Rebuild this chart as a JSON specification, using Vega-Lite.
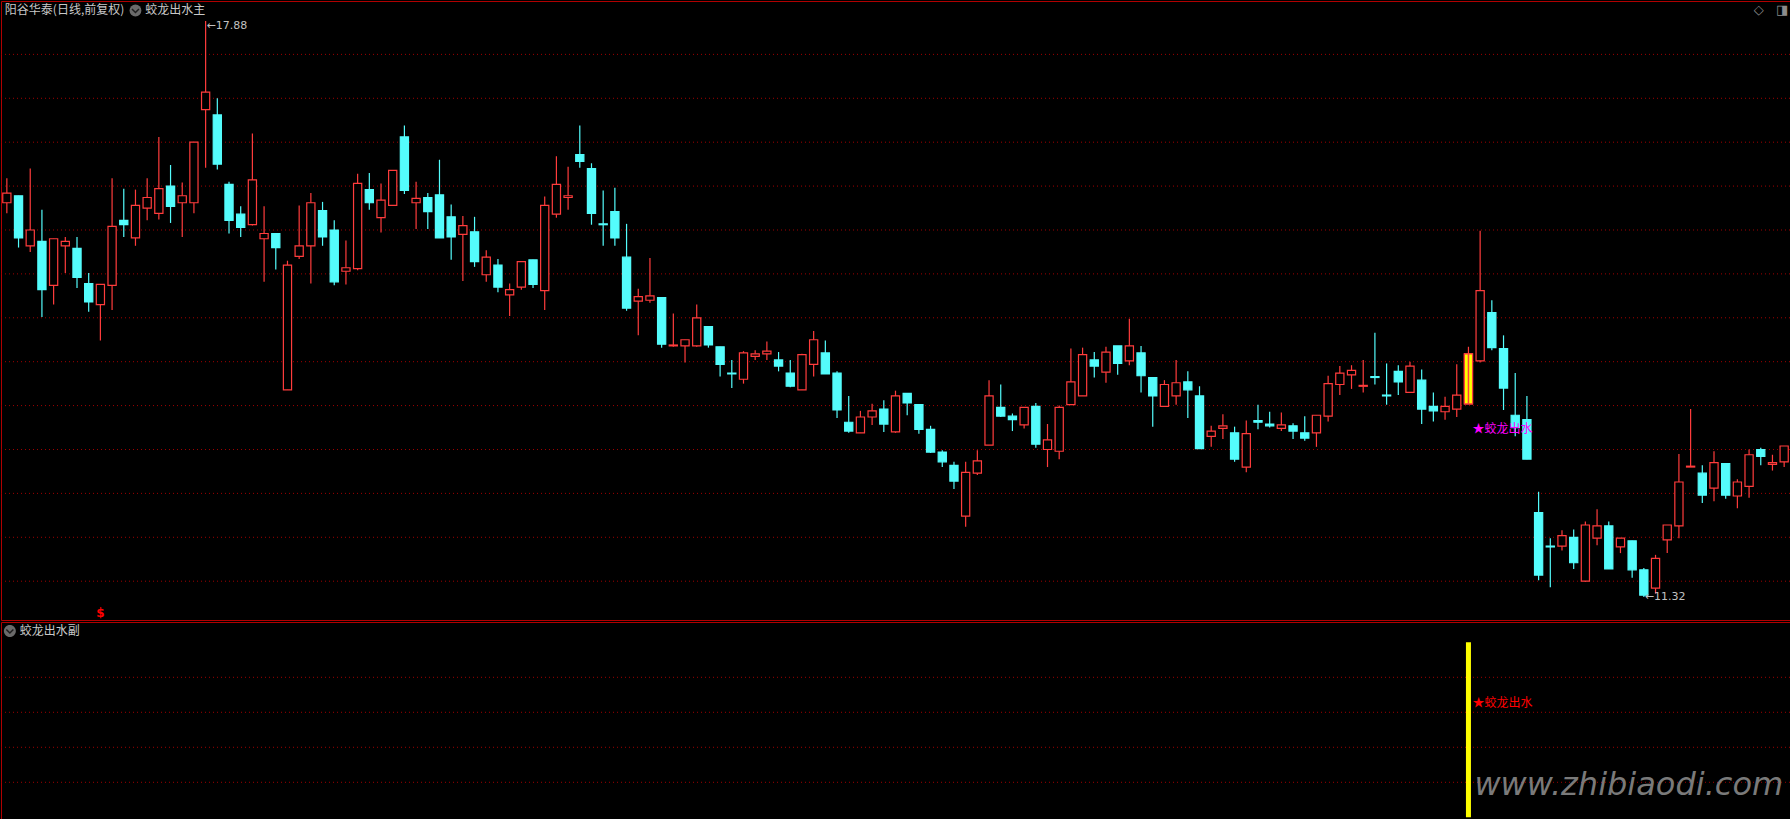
{
  "$schema": "https://vega.github.io/schema/vega-lite/v6.json",
  "background": "#000000",
  "padding": 0,
  "spacing": 0,
  "config": {
    "view": {"stroke": "#B00000", "strokeWidth": 1},
    "text": {"font": "Noto Sans CJK SC"}
  },
  "datasets": {
    "k": [
      {"i":1,"o":15.81,"h":16.09,"l":15.69,"c":15.92},
      {"i":2,"o":15.89,"h":15.89,"l":15.30,"c":15.41},
      {"i":3,"o":15.32,"h":16.20,"l":15.25,"c":15.50},
      {"i":4,"o":15.37,"h":15.73,"l":14.51,"c":14.82},
      {"i":5,"o":14.87,"h":15.40,"l":14.65,"c":15.40},
      {"i":6,"o":15.32,"h":15.42,"l":15.01,"c":15.37},
      {"i":7,"o":15.29,"h":15.42,"l":14.84,"c":14.96},
      {"i":8,"o":14.89,"h":15.01,"l":14.57,"c":14.68},
      {"i":9,"o":14.65,"h":14.88,"l":14.24,"c":14.88},
      {"i":10,"o":14.87,"h":16.09,"l":14.59,"c":15.54},
      {"i":11,"o":15.61,"h":15.97,"l":15.42,"c":15.56},
      {"i":12,"o":15.41,"h":15.96,"l":15.32,"c":15.78},
      {"i":13,"o":15.75,"h":16.09,"l":15.61,"c":15.87},
      {"i":14,"o":15.69,"h":16.56,"l":15.62,"c":15.97},
      {"i":15,"o":16.00,"h":16.24,"l":15.58,"c":15.77},
      {"i":16,"o":15.81,"h":16.04,"l":15.42,"c":15.89},
      {"i":17,"o":15.81,"h":16.50,"l":15.69,"c":16.50},
      {"i":18,"o":16.87,"h":17.88,"l":16.21,"c":17.07},
      {"i":19,"o":16.81,"h":17.00,"l":16.19,"c":16.25},
      {"i":20,"o":16.02,"h":16.05,"l":15.46,"c":15.61},
      {"i":21,"o":15.68,"h":15.77,"l":15.42,"c":15.53},
      {"i":22,"o":15.56,"h":16.60,"l":15.55,"c":16.07},
      {"i":23,"o":15.40,"h":15.77,"l":14.91,"c":15.46},
      {"i":24,"o":15.46,"h":15.46,"l":15.05,"c":15.30},
      {"i":25,"o":13.68,"h":15.15,"l":13.68,"c":15.10},
      {"i":26,"o":15.20,"h":15.78,"l":15.17,"c":15.32},
      {"i":27,"o":15.32,"h":15.92,"l":14.89,"c":15.81},
      {"i":28,"o":15.72,"h":15.82,"l":15.32,"c":15.42},
      {"i":29,"o":15.50,"h":15.61,"l":14.87,"c":14.91},
      {"i":30,"o":15.03,"h":15.38,"l":14.88,"c":15.07},
      {"i":31,"o":15.06,"h":16.14,"l":15.04,"c":16.03},
      {"i":32,"o":15.96,"h":16.15,"l":15.73,"c":15.81},
      {"i":33,"o":15.64,"h":16.03,"l":15.47,"c":15.84},
      {"i":34,"o":15.78,"h":16.18,"l":15.78,"c":16.18},
      {"i":35,"o":16.56,"h":16.69,"l":15.91,"c":15.95},
      {"i":36,"o":15.81,"h":16.05,"l":15.51,"c":15.86},
      {"i":37,"o":15.87,"h":15.92,"l":15.51,"c":15.71},
      {"i":38,"o":15.90,"h":16.30,"l":15.41,"c":15.41},
      {"i":39,"o":15.65,"h":15.79,"l":15.16,"c":15.42},
      {"i":40,"o":15.45,"h":15.66,"l":14.92,"c":15.55},
      {"i":41,"o":15.48,"h":15.65,"l":15.08,"c":15.14},
      {"i":42,"o":14.99,"h":15.27,"l":14.91,"c":15.19},
      {"i":43,"o":15.10,"h":15.17,"l":14.79,"c":14.85},
      {"i":44,"o":14.76,"h":14.89,"l":14.52,"c":14.82},
      {"i":45,"o":14.85,"h":15.14,"l":14.82,"c":15.14},
      {"i":46,"o":15.16,"h":15.16,"l":14.84,"c":14.88},
      {"i":47,"o":14.81,"h":15.88,"l":14.59,"c":15.78},
      {"i":48,"o":15.68,"h":16.34,"l":15.64,"c":16.02},
      {"i":49,"o":15.87,"h":16.22,"l":15.73,"c":15.89},
      {"i":50,"o":16.36,"h":16.69,"l":16.21,"c":16.28},
      {"i":51,"o":16.20,"h":16.26,"l":15.56,"c":15.69},
      {"i":52,"o":15.57,"h":15.95,"l":15.32,"c":15.56},
      {"i":53,"o":15.71,"h":15.98,"l":15.32,"c":15.41},
      {"i":54,"o":15.19,"h":15.57,"l":14.58,"c":14.61},
      {"i":55,"o":14.69,"h":14.83,"l":14.30,"c":14.74},
      {"i":56,"o":14.70,"h":15.18,"l":14.67,"c":14.75},
      {"i":57,"o":14.73,"h":14.73,"l":14.16,"c":14.20},
      {"i":58,"o":14.18,"h":14.55,"l":14.17,"c":14.19},
      {"i":59,"o":14.18,"h":14.25,"l":13.99,"c":14.25},
      {"i":60,"o":14.18,"h":14.65,"l":14.17,"c":14.50},
      {"i":61,"o":14.40,"h":14.40,"l":14.16,"c":14.19},
      {"i":62,"o":14.17,"h":14.17,"l":13.83,"c":13.97},
      {"i":63,"o":13.87,"h":14.02,"l":13.70,"c":13.86},
      {"i":64,"o":13.80,"h":14.12,"l":13.75,"c":14.10},
      {"i":65,"o":14.06,"h":14.13,"l":14.02,"c":14.09},
      {"i":66,"o":14.09,"h":14.23,"l":14.02,"c":14.12},
      {"i":67,"o":14.02,"h":14.11,"l":13.89,"c":13.95},
      {"i":68,"o":13.87,"h":14.02,"l":13.71,"c":13.72},
      {"i":69,"o":13.68,"h":14.09,"l":13.68,"c":14.08},
      {"i":70,"o":13.97,"h":14.35,"l":13.83,"c":14.25},
      {"i":71,"o":14.10,"h":14.24,"l":13.86,"c":13.86},
      {"i":72,"o":13.87,"h":13.89,"l":13.36,"c":13.45},
      {"i":73,"o":13.31,"h":13.61,"l":13.19,"c":13.21},
      {"i":74,"o":13.19,"h":13.44,"l":13.19,"c":13.37},
      {"i":75,"o":13.37,"h":13.52,"l":13.28,"c":13.44},
      {"i":76,"o":13.46,"h":13.56,"l":13.20,"c":13.29},
      {"i":77,"o":13.20,"h":13.67,"l":13.19,"c":13.61},
      {"i":78,"o":13.64,"h":13.64,"l":13.39,"c":13.53},
      {"i":79,"o":13.51,"h":13.51,"l":13.18,"c":13.23},
      {"i":80,"o":13.23,"h":13.27,"l":12.96,"c":12.97},
      {"i":81,"o":12.97,"h":12.99,"l":12.80,"c":12.86},
      {"i":82,"o":12.82,"h":12.86,"l":12.55,"c":12.64},
      {"i":83,"o":12.24,"h":12.86,"l":12.12,"c":12.74},
      {"i":84,"o":12.73,"h":12.99,"l":12.71,"c":12.87},
      {"i":85,"o":13.05,"h":13.79,"l":13.05,"c":13.61},
      {"i":86,"o":13.48,"h":13.74,"l":13.37,"c":13.38},
      {"i":87,"o":13.38,"h":13.41,"l":13.21,"c":13.34},
      {"i":88,"o":13.28,"h":13.48,"l":13.24,"c":13.48},
      {"i":89,"o":13.49,"h":13.53,"l":13.02,"c":13.06},
      {"i":90,"o":13.00,"h":13.29,"l":12.80,"c":13.11},
      {"i":91,"o":12.98,"h":13.50,"l":12.89,"c":13.48},
      {"i":92,"o":13.51,"h":14.15,"l":13.51,"c":13.77},
      {"i":93,"o":13.61,"h":14.16,"l":13.61,"c":14.08},
      {"i":94,"o":14.02,"h":14.11,"l":13.82,"c":13.95},
      {"i":95,"o":13.88,"h":14.17,"l":13.76,"c":14.11},
      {"i":96,"o":14.18,"h":14.18,"l":13.85,"c":13.98},
      {"i":97,"o":14.01,"h":14.49,"l":13.96,"c":14.18},
      {"i":98,"o":14.10,"h":14.18,"l":13.65,"c":13.84},
      {"i":99,"o":13.82,"h":13.82,"l":13.26,"c":13.61},
      {"i":100,"o":13.49,"h":13.79,"l":13.49,"c":13.74},
      {"i":101,"o":13.61,"h":14.02,"l":13.51,"c":13.76},
      {"i":102,"o":13.77,"h":13.89,"l":13.36,"c":13.68},
      {"i":103,"o":13.61,"h":13.72,"l":13.01,"c":13.01},
      {"i":104,"o":13.15,"h":13.27,"l":13.03,"c":13.21},
      {"i":105,"o":13.24,"h":13.40,"l":13.12,"c":13.27},
      {"i":106,"o":13.19,"h":13.26,"l":12.86,"c":12.89},
      {"i":107,"o":12.80,"h":13.33,"l":12.74,"c":13.18},
      {"i":108,"o":13.33,"h":13.51,"l":13.23,"c":13.31},
      {"i":109,"o":13.29,"h":13.43,"l":13.25,"c":13.27},
      {"i":110,"o":13.24,"h":13.42,"l":13.21,"c":13.28},
      {"i":111,"o":13.27,"h":13.30,"l":13.12,"c":13.21},
      {"i":112,"o":13.19,"h":13.38,"l":13.10,"c":13.13},
      {"i":113,"o":13.19,"h":13.39,"l":13.03,"c":13.39},
      {"i":114,"o":13.38,"h":13.84,"l":13.32,"c":13.75},
      {"i":115,"o":13.74,"h":13.95,"l":13.62,"c":13.87},
      {"i":116,"o":13.85,"h":13.96,"l":13.69,"c":13.90},
      {"i":117,"o":13.72,"h":14.02,"l":13.65,"c":13.73},
      {"i":118,"o":13.83,"h":14.33,"l":13.74,"c":13.82},
      {"i":119,"o":13.62,"h":13.98,"l":13.51,"c":13.61},
      {"i":120,"o":13.89,"h":13.96,"l":13.62,"c":13.77},
      {"i":121,"o":13.65,"h":14.00,"l":13.65,"c":13.95},
      {"i":122,"o":13.79,"h":13.91,"l":13.29,"c":13.46},
      {"i":123,"o":13.49,"h":13.65,"l":13.32,"c":13.44},
      {"i":124,"o":13.43,"h":13.60,"l":13.34,"c":13.49},
      {"i":125,"o":13.46,"h":13.97,"l":13.37,"c":13.62},
      {"i":126,"o":13.52,"h":14.17,"l":13.52,"c":14.09},
      {"i":127,"o":14.01,"h":15.49,"l":13.99,"c":14.81},
      {"i":128,"o":14.56,"h":14.70,"l":14.13,"c":14.16},
      {"i":129,"o":14.15,"h":14.30,"l":13.45,"c":13.70},
      {"i":130,"o":13.39,"h":13.87,"l":13.15,"c":13.25},
      {"i":131,"o":13.34,"h":13.61,"l":12.89,"c":12.89},
      {"i":132,"o":12.28,"h":12.52,"l":11.51,"c":11.57},
      {"i":133,"o":11.90,"h":11.99,"l":11.43,"c":11.89},
      {"i":134,"o":11.90,"h":12.08,"l":11.85,"c":12.02},
      {"i":135,"o":12.00,"h":12.09,"l":11.64,"c":11.71},
      {"i":136,"o":11.50,"h":12.18,"l":11.49,"c":12.14},
      {"i":137,"o":11.99,"h":12.32,"l":11.91,"c":12.13},
      {"i":138,"o":12.13,"h":12.18,"l":11.64,"c":11.64},
      {"i":139,"o":11.89,"h":11.99,"l":11.82,"c":11.99},
      {"i":140,"o":11.96,"h":11.96,"l":11.54,"c":11.63},
      {"i":141,"o":11.63,"h":11.65,"l":11.32,"c":11.34},
      {"i":142,"o":11.42,"h":11.80,"l":11.36,"c":11.76},
      {"i":143,"o":11.97,"h":12.14,"l":11.82,"c":12.14},
      {"i":144,"o":12.13,"h":12.95,"l":11.99,"c":12.63},
      {"i":145,"o":12.80,"h":13.46,"l":12.80,"c":12.81},
      {"i":146,"o":12.73,"h":12.82,"l":12.39,"c":12.48},
      {"i":147,"o":12.56,"h":12.98,"l":12.41,"c":12.85},
      {"i":148,"o":12.84,"h":12.84,"l":12.44,"c":12.48},
      {"i":149,"o":12.47,"h":12.66,"l":12.33,"c":12.63},
      {"i":150,"o":12.58,"h":13.00,"l":12.45,"c":12.94},
      {"i":151,"o":13.00,"h":13.02,"l":12.82,"c":12.92},
      {"i":152,"o":12.83,"h":12.94,"l":12.76,"c":12.85},
      {"i":153,"o":12.86,"h":13.04,"l":12.80,"c":13.04}
    ],
    "sig": [{"i":126,"o":13.52,"c":14.09,"v0":0,"v1":100}]
  },
  "vconcat": [
    {
      "width": 1789,
      "height": 619,
      "layer": [
        {
          "data": {"values": [{"g":11.5},{"g":12},{"g":12.5},{"g":13},{"g":13.5},{"g":14},{"g":14.5},{"g":15},{"g":15.5},{"g":16},{"g":16.5},{"g":17},{"g":17.5}]},
          "mark": {"type": "rule", "color": "#A00000", "strokeWidth": 1, "strokeDash": [1, 3]},
          "encoding": {
            "y": {"field": "g", "type": "quantitative", "scale": {"domain": [11.058, 18.108], "nice": false, "zero": false}, "axis": null}
          }
        },
        {
          "data": {"name": "k"},
          "mark": {"type": "rule", "strokeWidth": 1.2},
          "encoding": {
            "x": {"field": "i", "type": "ordinal", "scale": {"domain": [1,2,3,4,5,6,7,8,9,10,11,12,13,14,15,16,17,18,19,20,21,22,23,24,25,26,27,28,29,30,31,32,33,34,35,36,37,38,39,40,41,42,43,44,45,46,47,48,49,50,51,52,53,54,55,56,57,58,59,60,61,62,63,64,65,66,67,68,69,70,71,72,73,74,75,76,77,78,79,80,81,82,83,84,85,86,87,88,89,90,91,92,93,94,95,96,97,98,99,100,101,102,103,104,105,106,107,108,109,110,111,112,113,114,115,116,117,118,119,120,121,122,123,124,125,126,127,128,129,130,131,132,133,134,135,136,137,138,139,140,141,142,143,144,145,146,147,148,149,150,151,152,153], "paddingInner": 0.3, "paddingOuter": 0.15}, "axis": null},
            "y": {"field": "l", "type": "quantitative", "axis": null},
            "y2": {"field": "h"},
            "color": {"condition": {"test": "datum.c >= datum.o", "value": "#FF3C3C"}, "value": "#54FCFC"}
          }
        },
        {
          "data": {"name": "k"},
          "mark": {"type": "bar", "strokeWidth": 1.2},
          "encoding": {
            "x": {"field": "i", "type": "ordinal", "axis": null},
            "y": {"field": "o", "type": "quantitative", "axis": null},
            "y2": {"field": "c"},
            "fill": {"condition": {"test": "datum.c >= datum.o", "value": "#000000"}, "value": "#54FCFC"},
            "stroke": {"condition": {"test": "datum.c >= datum.o", "value": "#FF3C3C"}, "value": "#54FCFC"}
          }
        },
        {
          "data": {"name": "sig"},
          "mark": {"type": "bar", "fill": "#FFFF00", "stroke": "#FF3C3C", "strokeWidth": 1.2},
          "encoding": {
            "x": {"field": "i", "type": "ordinal", "axis": null},
            "y": {"field": "o", "type": "quantitative", "axis": null},
            "y2": {"field": "c"}
          }
        },
        {
          "data": {"name": "sig"},
          "mark": {"type": "rule", "color": "#FF3C3C", "strokeWidth": 1.5},
          "encoding": {
            "x": {"field": "i", "type": "ordinal", "axis": null},
            "y": {"field": "o", "type": "quantitative", "axis": null},
            "y2": {"field": "c"}
          }
        },
        {
          "data": {"values": [{"i":1,"p":18.0,"t":"阳谷华泰(日线,前复权)"},{"i":13,"p":18.0,"t":"蛟龙出水主"}]},
          "mark": {"type": "text", "align": "left", "baseline": "middle", "dx": -2, "fontSize": 12, "fill": "#C8C8C8"},
          "encoding": {
            "x": {"field": "i", "type": "ordinal", "axis": null},
            "y": {"field": "p", "type": "quantitative", "axis": null},
            "text": {"field": "t"}
          }
        },
        {
          "data": {"values": [{"i":12,"p":18.0}]},
          "mark": {"type": "point", "shape": "circle", "filled": true, "size": 140, "color": "#6A6A6A", "opacity": 1},
          "encoding": {
            "x": {"field": "i", "type": "ordinal", "axis": null},
            "y": {"field": "p", "type": "quantitative", "axis": null}
          }
        },
        {
          "data": {"values": [{"i":12,"p":18.0}]},
          "mark": {"type": "point", "shape": "M-0.7,-0.3L0,0.4L0.7,-0.3", "filled": false, "size": 100, "stroke": "#1E1E1E", "strokeWidth": 1.5, "opacity": 1},
          "encoding": {
            "x": {"field": "i", "type": "ordinal", "axis": null},
            "y": {"field": "p", "type": "quantitative", "axis": null}
          }
        },
        {
          "data": {"values": [{"i":151,"p":18.0,"t":"◇"},{"i":153,"p":18.0,"t":"◨"}]},
          "mark": {"type": "text", "align": "center", "baseline": "middle", "fontSize": 13, "fill": "#8C8C8C", "font": "DejaVu Sans", "dx": -2},
          "encoding": {
            "x": {"field": "i", "type": "ordinal", "axis": null},
            "y": {"field": "p", "type": "quantitative", "axis": null},
            "text": {"field": "t"}
          }
        },
        {
          "data": {"values": [{"i":18,"p":17.88,"t":"←17.88"}]},
          "mark": {"type": "text", "align": "left", "baseline": "middle", "dx": 1, "dy": 5, "fontSize": 11, "fill": "#C0C0C0", "font": "DejaVu Sans"},
          "encoding": {
            "x": {"field": "i", "type": "ordinal", "axis": null},
            "y": {"field": "p", "type": "quantitative", "axis": null},
            "text": {"field": "t"}
          }
        },
        {
          "data": {"values": [{"i":141,"p":11.32,"t":"←11.32"}]},
          "mark": {"type": "text", "align": "left", "baseline": "middle", "dx": 1, "fontSize": 11, "fill": "#C0C0C0", "font": "DejaVu Sans"},
          "encoding": {
            "x": {"field": "i", "type": "ordinal", "axis": null},
            "y": {"field": "p", "type": "quantitative", "axis": null},
            "text": {"field": "t"}
          }
        },
        {
          "data": {"values": [{"i":9,"p":11.14,"t":"$"}]},
          "mark": {"type": "text", "align": "center", "baseline": "middle", "fontSize": 12, "fontWeight": "bold", "fill": "#FF0000", "font": "DejaVu Sans"},
          "encoding": {
            "x": {"field": "i", "type": "ordinal", "axis": null},
            "y": {"field": "p", "type": "quantitative", "axis": null},
            "text": {"field": "t"}
          }
        },
        {
          "data": {"values": [{"i":126,"p":13.23,"t":"★蛟龙出水"}]},
          "mark": {"type": "text", "align": "left", "baseline": "middle", "dx": 4, "fontSize": 12, "fill": "#FF00FF"},
          "encoding": {
            "x": {"field": "i", "type": "ordinal", "axis": null},
            "y": {"field": "p", "type": "quantitative", "axis": null},
            "text": {"field": "t"}
          }
        }
      ]
    },
    {
      "width": 1789,
      "height": 200,
      "layer": [
        {
          "data": {"values": [{"g":20},{"g":40},{"g":60},{"g":80}]},
          "mark": {"type": "rule", "color": "#A00000", "strokeWidth": 1, "strokeDash": [1, 3]},
          "encoding": {
            "y": {"field": "g", "type": "quantitative", "scale": {"domain": [-2.69, 111.6], "nice": false, "zero": false}, "axis": null}
          }
        },
        {
          "data": {"name": "sig"},
          "mark": {"type": "rule", "color": "#FFFF00", "strokeWidth": 5, "strokeCap": "butt"},
          "encoding": {
            "x": {"field": "i", "type": "ordinal", "scale": {"domain": [1,2,3,4,5,6,7,8,9,10,11,12,13,14,15,16,17,18,19,20,21,22,23,24,25,26,27,28,29,30,31,32,33,34,35,36,37,38,39,40,41,42,43,44,45,46,47,48,49,50,51,52,53,54,55,56,57,58,59,60,61,62,63,64,65,66,67,68,69,70,71,72,73,74,75,76,77,78,79,80,81,82,83,84,85,86,87,88,89,90,91,92,93,94,95,96,97,98,99,100,101,102,103,104,105,106,107,108,109,110,111,112,113,114,115,116,117,118,119,120,121,122,123,124,125,126,127,128,129,130,131,132,133,134,135,136,137,138,139,140,141,142,143,144,145,146,147,148,149,150,151,152,153], "paddingInner": 0.3, "paddingOuter": 0.15}, "axis": null},
            "y": {"field": "v0", "type": "quantitative", "axis": null},
            "y2": {"field": "v1"}
          }
        },
        {
          "data": {"values": [{"i":126,"v":65.3,"t":"★蛟龙出水"}]},
          "mark": {"type": "text", "align": "left", "baseline": "middle", "dx": 4, "fontSize": 12, "fill": "#FF0000"},
          "encoding": {
            "x": {"field": "i", "type": "ordinal", "axis": null},
            "y": {"field": "v", "type": "quantitative", "axis": null},
            "text": {"field": "t"}
          }
        },
        {
          "data": {"values": [{"i":1,"v":106.5}]},
          "mark": {"type": "point", "shape": "M1.5,0A1,1,0,1,1,-0.5,0A1,1,0,1,1,1.5,0Z", "filled": true, "size": 144, "color": "#6A6A6A", "opacity": 1},
          "encoding": {
            "x": {"field": "i", "type": "ordinal", "axis": null},
            "y": {"field": "v", "type": "quantitative", "axis": null}
          }
        },
        {
          "data": {"values": [{"i":1,"v":106.5}]},
          "mark": {"type": "point", "shape": "M-0.1,-0.3L0.6,0.4L1.3,-0.3", "filled": false, "size": 100, "stroke": "#1E1E1E", "strokeWidth": 1.5, "opacity": 1},
          "encoding": {
            "x": {"field": "i", "type": "ordinal", "axis": null},
            "y": {"field": "v", "type": "quantitative", "axis": null}
          }
        },
        {
          "data": {"values": [{"i":1,"v":106.5,"t":"蛟龙出水副"}]},
          "mark": {"type": "text", "align": "left", "baseline": "middle", "dx": 13, "fontSize": 12, "fill": "#C8C8C8"},
          "encoding": {
            "x": {"field": "i", "type": "ordinal", "axis": null},
            "y": {"field": "v", "type": "quantitative", "axis": null},
            "text": {"field": "t"}
          }
        },
        {
          "data": {"values": [{"i":153,"v":18.45,"t":"www.zhibiaodi.com"}]},
          "mark": {"type": "text", "align": "right", "baseline": "middle", "dx": -1, "fontSize": 32, "fontStyle": "italic", "fill": "#7A7A7A", "font": "DejaVu Sans"},
          "encoding": {
            "x": {"field": "i", "type": "ordinal", "axis": null},
            "y": {"field": "v", "type": "quantitative", "axis": null},
            "text": {"field": "t"}
          }
        }
      ]
    }
  ]
}
